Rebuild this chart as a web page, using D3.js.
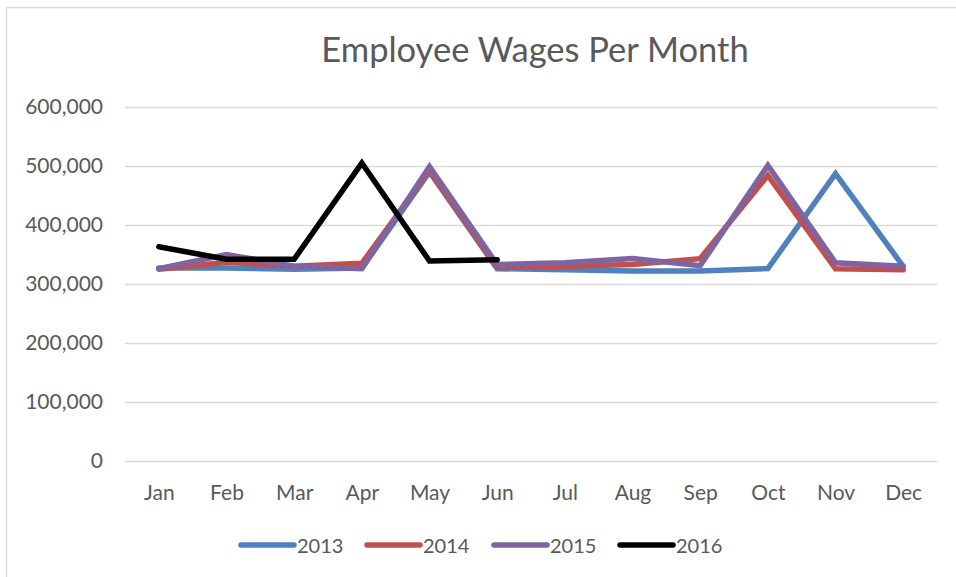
<!DOCTYPE html>
<html><head><meta charset="utf-8">
<script src="https://cdn.jsdelivr.net/npm/d3@7/dist/d3.min.js"></script>
<style>body{margin:0;background:#fff}svg{display:block}text{font-family:Lato,"Open Sans",sans-serif}</style>
</head><body><svg id="c" width="956" height="577"></svg>
<script>
const months = ["Jan","Feb","Mar","Apr","May","Jun","Jul","Aug","Sep","Oct","Nov","Dec"];
const yTicks = [0,100000,200000,300000,400000,500000,600000];
const s2013 = [327000,327000,325000,327000,490000,326000,324000,322000,322000,326000,487000,330000];
const s2014 = [325000,337000,330000,335000,492000,328000,330000,333000,343000,484000,326000,324000];
const s2015 = [326000,350000,330000,326000,499000,333000,336000,343000,331000,501000,336000,330000];
const s2016 = [363000,342000,342000,505000,339000,341000];
const seriesNames = ["2013","2014","2015","2016"];
const seriesColors = ["#4f81bd","#c0504d","#8064a2","#000000"];
const seriesData = [s2013,s2014,s2015,s2016];

(function(){
const FONT = "Lato,'Open Sans',sans-serif";
const svg = d3.select("#c");
svg.append("rect").attr("x",6.5).attr("y",7.5).attr("width",1000).attr("height",1000)
  .attr("fill","none").attr("stroke","#d9d9d9").attr("stroke-width",1.5);

const pL=125, pR=937, pT=107, pB=461;
const x = d3.scalePoint().domain(months).range([pL,pR]).padding(0.5);
const y = d3.scaleLinear().domain([0,600000]).range([pB,pT]);

svg.append("text").attr("x",535).attr("y",62).attr("text-anchor","middle")
  .attr("font-size",34.5).attr("fill","#595959").style("font-family",FONT).text("Employee Wages Per Month");

const ya = svg.append("g").attr("transform",`translate(${pL},0)`)
  .call(d3.axisLeft(y).tickValues(yTicks).tickSize(-(pR-pL)).tickPadding(22).tickFormat(d3.format(",")));
ya.select(".domain").remove();
ya.selectAll("line").attr("stroke","#d9d9d9").attr("stroke-width",1.5);
ya.selectAll("text").attr("font-size",21).attr("fill","#595959").style("font-family",FONT);

const xa = svg.append("g").attr("transform",`translate(0,${pB})`)
  .call(d3.axisBottom(x).tickSize(0).tickPadding(24));
xa.select(".domain").remove();
xa.selectAll("text").attr("font-size",21).attr("fill","#595959").style("font-family",FONT);

const line = d3.line().x((d,i)=>x(months[i])).y(d=>y(d));
seriesData.forEach((s,k)=>{
  svg.append("path").datum(s).attr("d",line).attr("fill","none")
    .attr("stroke",seriesColors[k]).attr("stroke-width",5.5).attr("stroke-linejoin","miter").attr("stroke-linecap","round");
});

const lx = [241,367,494,620];
seriesNames.forEach((n,k)=>{
  const g = svg.append("g").attr("transform",`translate(${lx[k]},545)`);
  g.append("line").attr("x1",0).attr("x2",53).attr("stroke",seriesColors[k]).attr("stroke-width",5.5).attr("stroke-linecap","round");
  g.append("text").attr("x",56).attr("y",8).attr("font-size",20).attr("fill","#595959").style("font-family",FONT).text(n);
});
})();
</script></body></html>
